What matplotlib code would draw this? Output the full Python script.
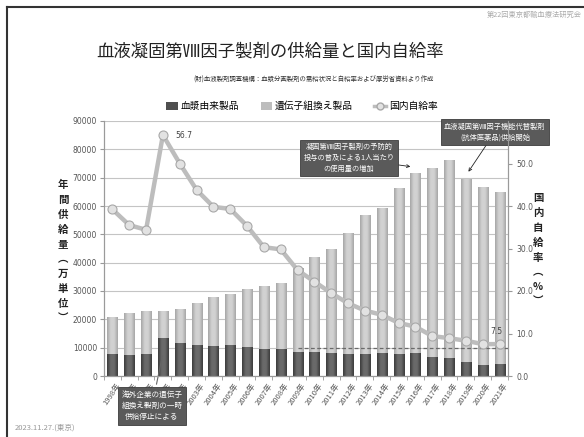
import matplotlib
matplotlib.use('Agg')
import matplotlib.pyplot as plt
import numpy as np
from matplotlib.colors import LinearSegmentedColormap
from matplotlib.patches import Patch
from matplotlib.lines import Line2D

plt.rcParams['font.family'] = ['Noto Sans CJK JP', 'DejaVu Sans']

# ---------------- data ----------------
years = ['1998年', '1999年', '2000年', '2001年', '2002年', '2003年', '2004年', '2005年',
         '2006年', '2007年', '2008年', '2009年', '2010年', '2011年', '2012年', '2013年',
         '2014年', '2015年', '2016年', '2017年', '2018年', '2019年', '2020年', '2021年']
plasma = [7800, 7400, 7600, 13300, 11800, 11100, 10600, 10900, 10400, 9400, 9400, 8600,
          8600, 8200, 7700, 7700, 8000, 7700, 8000, 6600, 6200, 5000, 3900, 4200]
recomb = [13100, 14700, 15400, 9700, 11800, 14800, 17400, 17900, 20200, 22400, 23500, 29400,
          33500, 36500, 42900, 49100, 51400, 58800, 63800, 66900, 70000, 64500, 62700, 60600]
rate = [39.2, 35.5, 34.4, 56.7, 50.0, 43.8, 39.8, 39.3, 35.3, 30.3, 29.8, 24.9,
        22.2, 19.5, 17.1, 15.4, 14.4, 12.5, 11.6, 9.4, 8.9, 8.3, 7.5, 7.5]
left_ticks = [0, 10000, 20000, 30000, 40000, 50000, 60000, 70000, 80000, 90000]
right_ticks = [0, 10, 20, 30, 40, 50]
legend_labels = ['血漿由来製品', '遺伝子組換え製品', '国内自給率']

# ---------------- figure ----------------
fig = plt.figure(figsize=(5.84, 4.37), dpi=100)
fig.patch.set_facecolor('white')
ax = fig.add_axes([104/584, 1-376/437, (508-104)/584, (376-121)/437])
ax2 = ax.twinx()

x = np.arange(len(years))
bw = 0.6
dark_c, light_c = '#4f4f4f', '#bdbdbd'
b1 = ax.bar(x, plasma, bw, color=dark_c, zorder=2, linewidth=0)
b2 = ax.bar(x, recomb, bw, bottom=plasma, color=light_c, zorder=2, linewidth=0)


def shade(bars, edge, mid):
    cmap = LinearSegmentedColormap.from_list('g', [edge, mid, mid, edge])
    grad = np.linspace(0, 1, 64).reshape(1, -1)
    for b in bars:
        x0, y0, w, h = b.get_x(), b.get_y(), b.get_width(), b.get_height()
        im = ax.imshow(grad, extent=[x0, x0 + w, y0, y0 + h], cmap=cmap, aspect='auto',
                       zorder=2.1, interpolation='bicubic')
        im.set_clip_path(b)


shade(b1, '#3a3a3a', '#6a6a6a')
shade(b2, '#a5a5a5', '#d2d2d2')

ax.set_xlim(-0.5, len(years) - 0.5)
ax.set_ylim(0, 90000)
ax.set_yticks(left_ticks)
ax.set_yticklabels([str(v) for v in left_ticks], fontsize=5.5, color='#555555',
                   family='DejaVu Sans')
ax.yaxis.grid(True, color='#c4c4c4', lw=0.8, zorder=0)
ax.set_axisbelow(True)
ax.hlines(10000, 11, len(years) - 0.5, colors='#6a6a6a', linestyles=(0, (3, 2)), lw=0.9, zorder=3)

ax.set_xticks(x)
ax.set_xticklabels(years, rotation=55, ha='center', fontsize=5.5, color='#555555')
ax.tick_params(axis='x', length=0, pad=4)
ax.set_xticks(np.arange(-0.5, len(years), 1), minor=True)
ax.tick_params(axis='x', which='minor', length=3, color='#999999')
ax.tick_params(axis='y', length=3, color='#999999', pad=2)

for s in ['top']:
    ax.spines[s].set_visible(False)
    ax2.spines[s].set_visible(False)
for s in ['left', 'right', 'bottom']:
    ax.spines[s].set_color('#9a9a9a')
    ax2.spines[s].set_color('#9a9a9a')

ax2.plot(x, rate, color='#bdbdbd', lw=3.2, marker='o', ms=6.5, mfc='#e2e2e2',
         mec='#a8a8a8', mew=0.8, zorder=5, solid_capstyle='round')
ax2.set_ylim(0, 60)
ax2.set_yticks(right_ticks)
ax2.set_yticklabels(['%.1f' % v for v in right_ticks], fontsize=5.5, color='#555555',
                    family='DejaVu Sans')
ax2.tick_params(axis='y', length=3, color='#999999', pad=3)

ax2.annotate('%.1f' % rate[3], xy=(x[3], rate[3]), xytext=(9, 0), textcoords='offset points',
             fontsize=5.5, color='#444444', va='center', family='DejaVu Sans')
ax2.annotate('%.1f' % rate[-1], xy=(x[-1], rate[-1]), xytext=(2, 9), textcoords='offset points',
             fontsize=5.5, color='#444444', ha='right', va='center', family='DejaVu Sans')

# ---------------- texts ----------------
fig.text(0.462, 0.882, '血液凝固第Ⅷ因子製剤の供給量と国内自給率', fontsize=12.5, ha='center',
         va='center', color='#222222')
fig.text(0.537, 0.817, '(財)血液製剤調査機構：血漿分画製剤の需給状況と自給率および厚労省資料より作成',
         fontsize=4.6, ha='center', va='center', color='#333333')
fig.text(582/584, 1-15/437, '第22回東京都輸血療法研究会', fontsize=5.2, ha='right', va='center',
         color='#aaaaaa')
fig.text(15/584, 1-428/437, '2023.11.27.(東京)', fontsize=5.5, ha='left', va='center',
         color='#999999')

fig.text(63/584, 1-252/437, '\n'.join('年間供給量︵万単位︶'), fontsize=7.5, weight='bold',
         ha='center', va='center', linespacing=1.6, color='#222222')
fig.text(538/584, 1-250/437, '\n'.join('国内自給率︵%︶'), fontsize=7.5, weight='bold',
         ha='center', va='center', linespacing=1.6, color='#222222')

handles = [Patch(facecolor=dark_c), Patch(facecolor=light_c),
           Line2D([], [], color='#bdbdbd', lw=2.5, marker='o', ms=5, mfc='#e2e2e2', mec='#a8a8a8')]
fig.legend(handles, legend_labels, loc='center', bbox_to_anchor=(0.517, 0.757), ncol=3,
           frameon=False, fontsize=7, handlelength=1.2, handleheight=0.8, columnspacing=2.2,
           handletextpad=0.3)

# border lines
fig.add_artist(Line2D([7/584, 1], [1-7/437, 1-7/437], color='#333333', lw=1.5))
fig.add_artist(Line2D([7/584, 7/584], [0, 1-7/437], color='#333333', lw=1.5))

# annotation boxes
box = dict(boxstyle='square,pad=0.45', fc='#5a5a5a', ec='#3c3c3c', lw=0.6)
ax.annotate('海外企業の遺伝子\n組換え製剤の一時\n供給停止による', xy=(3, 8100),
            xytext=(152/584, 1-406/437), textcoords='figure fraction', fontsize=5.5,
            color='white', ha='center', va='center', linespacing=1.55, bbox=box,
            arrowprops=dict(arrowstyle='-', color='#666666', lw=0.8), annotation_clip=False,
            zorder=10)
ax.annotate('凝固第Ⅷ因子製剤の予防的\n投与の普及による1人当たり\nの使用量の増加', xy=(17.7, 73900),
            xytext=(349/584, 1-158/437), textcoords='figure fraction', fontsize=5.2,
            color='white', ha='center', va='center', linespacing=1.45, bbox=box,
            arrowprops=dict(arrowstyle='->', color='#222222', lw=0.6, shrinkA=0, shrinkB=0),
            annotation_clip=False, zorder=10)
ax.annotate('血液凝固第Ⅷ因子機能代替製剤\n(抗体医薬品)供給開始', xy=(21.15, 72100),
            xytext=(495/584, 1-132/437), textcoords='figure fraction', fontsize=5.2,
            color='white', ha='center', va='center', linespacing=1.45, bbox=box,
            arrowprops=dict(arrowstyle='->', color='#222222', lw=0.6, shrinkA=0, shrinkB=0),
            annotation_clip=False, zorder=10)

fig.savefig('out.png', dpi=100)
